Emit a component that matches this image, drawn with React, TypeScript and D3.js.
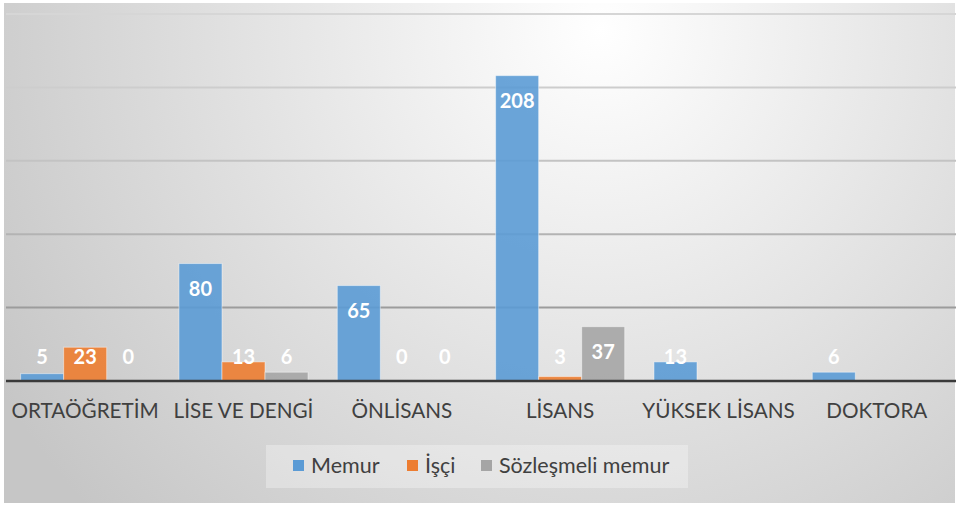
import React from "react";
import * as d3 from "d3";

const categories = ["ORTAÖĞRETİM", "LİSE VE DENGİ", "ÖNLİSANS", "LİSANS", "YÜKSEK LİSANS", "DOKTORA"];
const seriesNames = ["Memur", "İşçi", "Sözleşmeli memur"];
const memur: (number | null)[] = [5, 80, 65, 208, 13, 6];
const isci: (number | null)[] = [23, 13, 0, 3, null, null];
const sozlesmeli: (number | null)[] = [0, 6, 0, 37, null, null];
const gridTicks = [0, 50, 100, 150, 200, 250];
const colors = ["#5b9bd5", "#ed7d31", "#a5a5a5"];
const gridColors = ["#d6d6d6", "#cdcdcd", "#c3c3c3", "#b3b3b3", "#9c9c9c"];

const W = 956;
const H = 507;
const FONT = "Lato, 'Open Sans', sans-serif";

export default function App() {
  const series = [memur, isci, sozlesmeli];
  const x0 = d3.scaleBand<string>().domain(categories).range([6, 956]).paddingInner(0).paddingOuter(0);
  const x1 = d3.scaleBand<number>().domain([0, 1, 2]).range([0, x0.bandwidth()]).paddingOuter(0.34).paddingInner(0);
  const y = d3.scaleLinear().domain([0, 250]).range([381, 14]);

  return (
    <div style={{ position: "absolute", left: 0, top: 0 }}>
      <svg width={W} height={H} style={{ display: "block" }}>
        <defs>
          <radialGradient id="bg" gradientUnits="userSpaceOnUse" cx={600} cy={30} r={700}>
            <stop offset="0" stopColor="#ffffff" />
            <stop offset="1" stopColor="#c6c6c6" />
          </radialGradient>
        </defs>
        <rect x={0} y={0} width={W} height={H} fill="#ffffff" />
        <rect x={4} y={3} width={951} height={500} fill="url(#bg)" />
        {gridTicks.slice(1).map((t, i) => (
          <line key={t} x1={6} x2={956} y1={y(t)} y2={y(t)} stroke={gridColors[gridColors.length - 1 - i]} strokeWidth={2} />
        ))}
        {categories.map((c, ci) => (
          <g key={c} transform={`translate(${x0(c)},0)`}>
            {series.map((s, si) => {
              const v = s[ci];
              if (v === null) return null;
              const top = y(v);
              return (
                <rect
                  key={si}
                  x={x1(si)}
                  y={top}
                  width={x1.bandwidth()}
                  height={y(0) - top}
                  fill={colors[si]}
                  fillOpacity={0.9}
                  stroke="#ffffff"
                  strokeOpacity={0.45}
                  strokeWidth={1}
                />
              );
            })}
          </g>
        ))}
        <line x1={6} x2={956} y1={y(0)} y2={y(0)} stroke="#3a3a3a" strokeWidth={2.5} />
        {categories.map((c, ci) => (
          <g key={c + "l"} transform={`translate(${x0(c)},0)`}>
            {series.map((s, si) => {
              const v = s[ci];
              if (v === null) return null;
              const ly = Math.min(y(v) + 25, 357);
              return (
                <text
                  key={si}
                  x={(x1(si) as number) + x1.bandwidth() / 2}
                  y={ly}
                  dy="0.35em"
                  textAnchor="middle"
                  fill="#ffffff"
                  fontFamily={FONT}
                  fontWeight={700}
                  fontSize={20}
                >
                  {v}
                </text>
              );
            })}
            <text
              x={x0.bandwidth() / 2}
              y={411}
              dy="0.35em"
              textAnchor="middle"
              fill="#404040"
              fontFamily={FONT}
              fontSize={20.7}
            >
              {c}
            </text>
          </g>
        ))}
        <rect x={266} y={445} width={422} height={43} fill="#ffffff" fillOpacity={0.3} />
        {seriesNames.map((n, i) => {
          const xs = [293, 407, 481][i];
          return (
            <g key={n}>
              <rect x={xs} y={460} width={11} height={11} fill={colors[i]} />
              <text x={xs + 18} y={465} dy="0.35em" fill="#404040" fontFamily={FONT} fontSize={21.5}>
                {n}
              </text>
            </g>
          );
        })}
      </svg>
    </div>
  );
}
